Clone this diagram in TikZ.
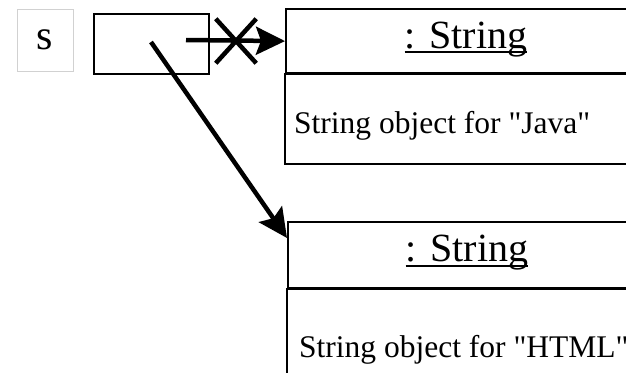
\documentclass[tikz,border=0pt]{standalone}
\usepackage{fontspec}
\setmainfont{Liberation Serif}
\usetikzlibrary{arrows.meta,shapes.misc}

\tikzset{
  refbox/.style={draw=black!18, line width=.6pt, minimum width=56pt, minimum height=62pt, font=\fontsize{42}{42}\selectfont},
  varbox/.style={draw, line width=2.2pt, minimum width=115pt, minimum height=60pt},
  headbox/.style={draw, line width=2.2pt, anchor=north west, minimum width=360pt, inner sep=0pt},
  headtext/.style={anchor=base, inner sep=0pt, font=\fontsize{40}{40}\selectfont},
  bodytext/.style={anchor=base west, inner sep=0pt, font=\fontsize{31.5}{31.5}\selectfont},
  ptr/.style={line width=4.5pt, -{Stealth[length=29pt, width=28pt, inset=5pt]}},
  cut/.style={cross out, draw, line width=4.5pt, minimum width=36pt, minimum height=40pt, inner sep=0pt}
}

\begin{document}
\begin{tikzpicture}[x=1pt, y=-1pt]
  \useasboundingbox (0,0) rectangle (626,372);
  \clip (0,0) rectangle (626,372);

  % reference variable
  \node[refbox] (s) at (45,40) {s};
  \node[varbox] (var) at (151.5,44) {};

  % first object
  \node[headbox, minimum height=64pt] (head1) at (285,8) {};
  \draw[line width=2.2pt] (head1.south west) rectangle ++(360,90);
  \node[headtext] (name1) at (466,48) {: String};
  \draw[line width=1.2pt] ([yshift=-4pt]name1.base west) -- ([yshift=-4pt]name1.base east);
  \node[bodytext] (val1) at (294,133) {String object for \textquotedbl Java\textquotedbl};

  % second object
  \node[headbox, minimum height=66pt] (head2) at (287,221) {};
  \draw[line width=2.2pt] (head2.south west) rectangle ++(360,120);
  \node[headtext] (name2) at (467,261) {: String};
  \draw[line width=1.2pt] ([yshift=-5pt]name2.base west) -- ([yshift=-5pt]name2.base east);
  \node[bodytext] (val2) at (299,357) {String object for \textquotedbl HTML\textquotedbl};

  % pointers
  \coordinate (old) at (186,40);
  \coordinate (new) at (151,42);
  \draw[ptr] (old) -- (head1.west);
  \node[cut] (x) at (236,41) {};
  \draw[ptr] (new) -- ([yshift=-17pt]head2.north west);
\end{tikzpicture}
\end{document}
